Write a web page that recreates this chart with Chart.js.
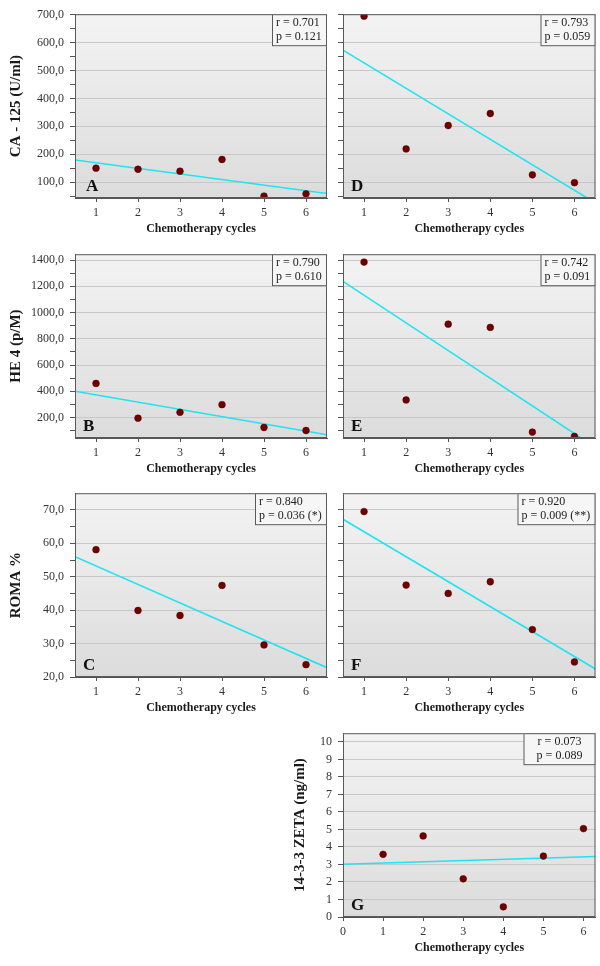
<!DOCTYPE html>
<html>
<head>
<meta charset="utf-8">
<script src="https://cdn.jsdelivr.net/npm/chart.js@4.4.0/dist/chart.umd.min.js"></script>
<style>
  body { margin: 0; background: #fff; width: 600px; height: 966px; position: relative; overflow: hidden; }
  canvas { position: absolute; }
</style>
</head>
<body>
<script>
// data
const cycles = [1, 2, 3, 4, 5, 6];

const ca125A = [150, 146, 139, 181, 50, 58];
const ca125D = [695, 219, 303, 346, 126, 98];
const he4B = [460, 195, 240, 298, 124, 101];
const he4E = [1385, 334, 912, 887, 89, 56];
const romaC = [58.1, 39.9, 38.4, 47.4, 29.6, 23.7];
const romaF = [69.5, 47.5, 45.0, 48.5, 34.2, 24.5];
const zetaG = [3.58, 4.63, 2.18, 0.58, 3.48, 5.05];

// regression line, value at left and right edge of the x range
const fitA = [179.5, 59];
const fitD = [573, 25];
const fitB = [400, 69];
const fitE = [1238, -28];
const fitC = [56.0, 22.8];
const fitF = [67.2, 22.4];
const fitG = [3.01, 3.46];

const statsA = ['r = 0.701', 'p = 0.121'];
const statsD = ['r = 0.793', 'p = 0.059'];
const statsB = ['r = 0.790', 'p = 0.610'];
const statsE = ['r = 0.742', 'p = 0.091'];
const statsC = ['r = 0.840', 'p = 0.036 (*)'];
const statsF = ['r = 0.920', 'p = 0.009 (**)'];
const statsG = ['r = 0.073', 'p = 0.089'];

// tick values (minor + major); labels only on the majors
const xTicks = [1, 2, 3, 4, 5, 6];
const xTicksG = [0, 1, 2, 3, 4, 5, 6];
const caTicks = [50, 100, 150, 200, 250, 300, 350, 400, 450, 500, 550, 600, 650, 700];
const he4Ticks = [100, 200, 300, 400, 500, 600, 700, 800, 900, 1000, 1100, 1200, 1300, 1400];
const romaTicks = [20, 25, 30, 35, 40, 45, 50, 55, 60, 65, 70];
const zetaTicks = [0, 1, 2, 3, 4, 5, 6, 7, 8, 9, 10];

const xTitle = 'Chemotherapy cycles';
const SERIF = '"Liberation Serif", "Times New Roman", serif';
const PAD_T = 12;

function commaFmt(v) {
    return v.toFixed(1).replace('.', ',');
}

function isMajor(v, major) {
    return Math.abs(v / major - Math.round(v / major)) < 1e-6;
}

// background gradient, frame, panel letter and r/p box
const panelDeco = {
    id: 'panelDeco',
    beforeDraw(chart) {
        const a = chart.chartArea;
        const ctx = chart.ctx;
        const g = ctx.createLinearGradient(0, a.top, 0, a.bottom);
        g.addColorStop(0, '#f3f3f3');
        g.addColorStop(1, '#dcdcdc');
        ctx.save();
        ctx.fillStyle = g;
        ctx.fillRect(a.left, a.top, a.right - a.left, a.bottom - a.top);
        ctx.restore();
    },
    afterDraw(chart, args, o) {
        const a = chart.chartArea;
        const ctx = chart.ctx;
        ctx.save();
        ctx.strokeStyle = '#5a5a5a';
        ctx.lineWidth = 1;
        ctx.strokeRect(a.left + 0.5, a.top + 0.5, a.right - a.left - 1, a.bottom - a.top - 1);

        // panel letter
        ctx.fillStyle = '#111';
        ctx.font = 'bold 17px ' + SERIF;
        ctx.textBaseline = 'alphabetic';
        ctx.textAlign = 'left';
        ctx.fillText(o.letter, a.left + o.letterDx, a.bottom - 7);

        // stats box
        ctx.font = '12px ' + SERIF;
        let tw = 0;
        o.stats.forEach(s => { tw = Math.max(tw, ctx.measureText(s).width); });
        const bw = Math.max(Math.ceil(tw) + 9, o.boxW || 0);
        const bh = 32;
        const bx = a.right - bw;
        ctx.fillStyle = '#f6f6f6';
        ctx.fillRect(bx, a.top, bw, bh);
        ctx.strokeStyle = '#5a5a5a';
        ctx.strokeRect(bx + 0.5, a.top + 0.5, bw - 1, bh - 1);
        ctx.fillStyle = '#222';
        ctx.textBaseline = 'middle';
        if (o.center) {
            ctx.textAlign = 'center';
            o.stats.forEach((s, i) => ctx.fillText(s, bx + bw / 2, a.top + 9 + i * 13.5));
        } else {
            ctx.textAlign = 'left';
            o.stats.forEach((s, i) => ctx.fillText(s, bx + 4, a.top + 9 + i * 13.5));
        }
        ctx.restore();
    }
};

function makePanel(p) {
    const cv = document.createElement('canvas');
    const w = p.right - p.left + p.yW + p.padR;
    const h = p.bottom - p.top + PAD_T + p.xH;
    cv.width = w;
    cv.height = h;
    cv.style.left = (p.left - p.yW) + 'px';
    cv.style.top = (p.top - PAD_T) + 'px';
    cv.style.width = w + 'px';
    cv.style.height = h + 'px';
    document.body.appendChild(cv);

    const points = cycles.map((c, i) => ({ x: c, y: p.values[i] }));
    const fitLine = [{ x: p.xMin, y: p.fit[0] }, { x: p.xMax, y: p.fit[1] }];

    new Chart(cv, {
        type: 'scatter',
        data: {
            datasets: [
                { data: points, backgroundColor: '#6e0000', borderColor: '#5a0000', borderWidth: 0.5, pointRadius: 3.4, order: 0 },
                { type: 'line', data: fitLine, borderColor: '#1fe4f2', borderWidth: 1.6, pointRadius: 0, fill: false, order: 1 }
            ]
        },
        options: {
            responsive: false,
            animation: false,
            devicePixelRatio: 1,
            layout: { padding: { top: PAD_T, right: p.padR, left: 0, bottom: 0 } },
            plugins: {
                legend: { display: false },
                tooltip: { enabled: false },
                panelDeco: { letter: p.letter, letterDx: p.letterDx || 8, stats: p.stats, center: !!p.center, boxW: p.boxW }
            },
            scales: {
                x: {
                    type: 'linear',
                    min: p.xMin,
                    max: p.xMax,
                    afterBuildTicks(s) { s.ticks = p.xTicks.map(v => ({ value: v })); },
                    afterFit(s) { s.height = p.xH; },
                    ticks: { autoSkip: false, maxRotation: 0, padding: 4, color: '#333', font: { family: SERIF, size: 12 }, callback: v => String(v) },
                    grid: { drawOnChartArea: false, tickLength: 4, color: '#555' },
                    border: { color: '#555' },
                    title: { display: true, text: xTitle, color: '#1a1a1a', font: { family: SERIF, size: 12, weight: 'bold' }, padding: { top: 0, bottom: p.xH - 38 } }
                },
                y: {
                    min: p.yMin,
                    max: p.yMax,
                    afterBuildTicks(s) { s.ticks = p.yTicks.map(v => ({ value: v })); },
                    afterFit(s) { s.width = p.yW; },
                    ticks: {
                        autoSkip: false,
                        padding: 6,
                        color: '#333',
                        font: { family: SERIF, size: 12 },
                        callback: v => {
                            if (!p.showLabels || !isMajor(v, p.major)) return '';
                            return p.fmt(v);
                        }
                    },
                    grid: {
                        tickLength: 5,
                        tickColor: '#555',
                        color: ctx => {
                            const v = ctx.tick ? ctx.tick.value : 0;
                            return isMajor(v, p.major) ? '#c8c8c8' : 'rgba(0,0,0,0)';
                        }
                    },
                    border: { color: '#555' },
                    title: { display: !!p.yTitle, text: p.yTitle, color: '#1a1a1a', font: { family: SERIF, size: 15, weight: 'bold' }, padding: { top: p.yTitlePad || 0, bottom: 0 } }
                }
            }
        },
        plugins: [panelDeco]
    });
}

const intFmt = v => String(v);

// left column
makePanel({ letter: 'A', letterDx: 11, values: ca125A, fit: fitA, stats: statsA, left: 75, right: 327, top: 13, bottom: 198,
    yW: 75, padR: 8, xH: 45, xMin: 0.5, xMax: 6.5, xTicks: xTicks, yMin: 43, yMax: 702, yTicks: caTicks, major: 100, fmt: commaFmt,
    showLabels: true, yTitle: 'CA - 125 (U/ml)', yTitlePad: 7 });
makePanel({ letter: 'B', values: he4B, fit: fitB, stats: statsB, left: 75, right: 327, top: 253, bottom: 438,
    yW: 75, padR: 8, xH: 45, xMin: 0.5, xMax: 6.5, xTicks: xTicks, yMin: 44, yMax: 1445, yTicks: he4Ticks, major: 200, fmt: commaFmt,
    showLabels: true, yTitle: 'HE 4 (p/M)', yTitlePad: 7 });
makePanel({ letter: 'C', values: romaC, fit: fitC, stats: statsC, left: 75, right: 327, top: 492, bottom: 677,
    yW: 75, padR: 8, xH: 45, xMin: 0.5, xMax: 6.5, xTicks: xTicks, yMin: 20, yMax: 75, yTicks: romaTicks, major: 10, fmt: commaFmt,
    showLabels: true, yTitle: 'ROMA %', yTitlePad: 7 });

// right column
makePanel({ letter: 'D', values: ca125D, fit: fitD, stats: statsD, left: 343, right: 596, top: 13, bottom: 198,
    yW: 5, padR: 4, xH: 45, xMin: 0.5, xMax: 6.5, xTicks: xTicks, yMin: 43, yMax: 702, yTicks: caTicks, major: 100, fmt: commaFmt, showLabels: false });
makePanel({ letter: 'E', values: he4E, fit: fitE, stats: statsE, left: 343, right: 596, top: 253, bottom: 438,
    yW: 5, padR: 4, xH: 45, xMin: 0.5, xMax: 6.5, xTicks: xTicks, yMin: 44, yMax: 1445, yTicks: he4Ticks, major: 200, fmt: commaFmt, showLabels: false });
makePanel({ letter: 'F', values: romaF, fit: fitF, stats: statsF, left: 343, right: 596, top: 492, bottom: 677,
    yW: 5, padR: 4, xH: 45, xMin: 0.5, xMax: 6.5, xTicks: xTicks, yMin: 20, yMax: 75, yTicks: romaTicks, major: 10, fmt: commaFmt, showLabels: false });
makePanel({ letter: 'G', values: zetaG, fit: fitG, stats: statsG, center: true, boxW: 72, left: 343, right: 596, top: 732, bottom: 917,
    yW: 55, padR: 4, xH: 48, xMin: 0, xMax: 6.3, xTicks: xTicksG, yMin: 0, yMax: 10.5, yTicks: zetaTicks, major: 1, fmt: intFmt,
    showLabels: true, yTitle: '14-3-3 ZETA (ng/ml)', yTitlePad: 3 });
</script>
</body>
</html>
